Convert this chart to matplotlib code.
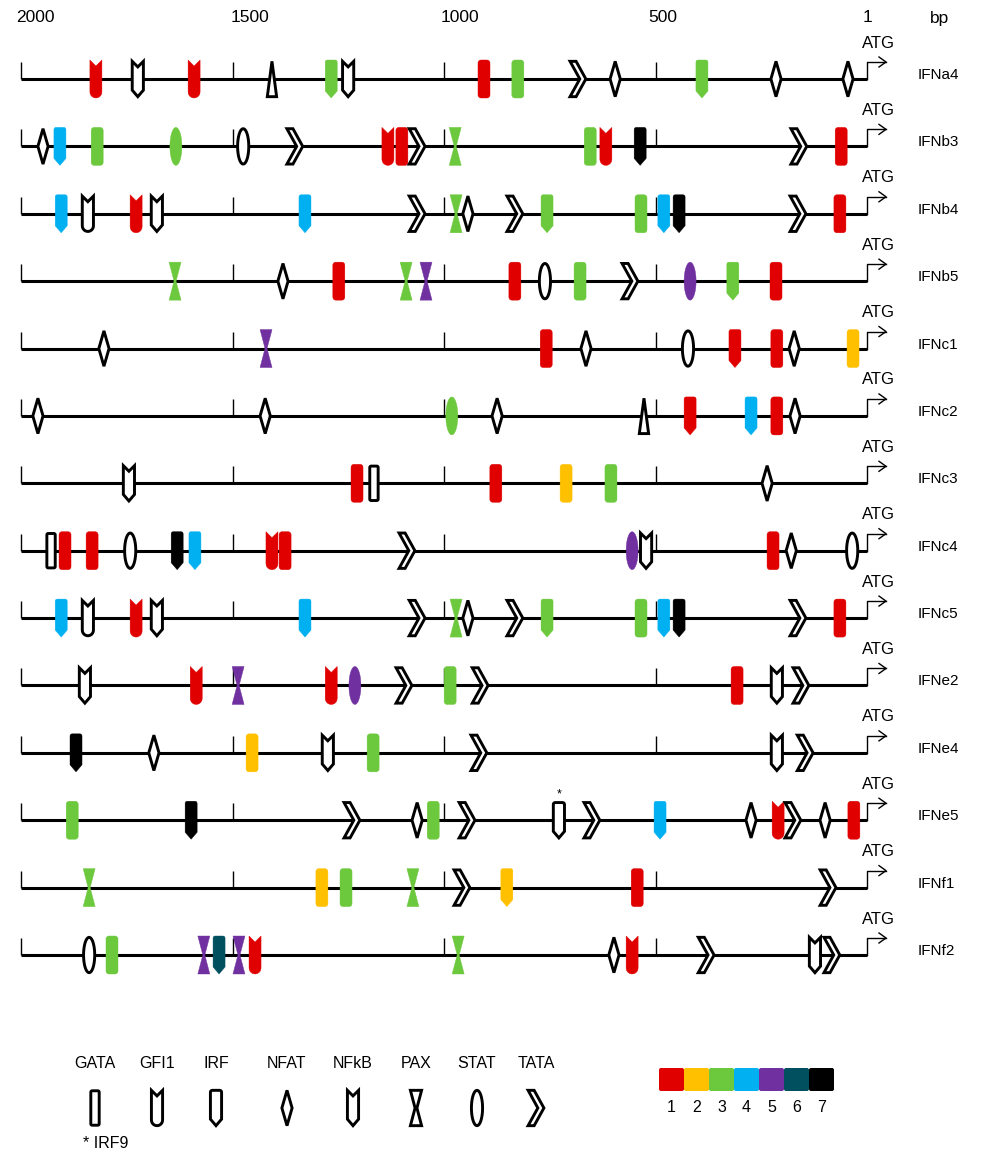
import numpy as np
import matplotlib.pyplot as plt
import matplotlib.transforms as mtransforms
from matplotlib.path import Path
from matplotlib.patches import PathPatch, FancyBboxPatch
from matplotlib.lines import Line2D

plt.rcParams['font.family'] = ['Liberation Sans', 'DejaVu Sans']

# sites: (position in bp upstream of ATG, factor family, colour code 0=open, 1-7)
IFNa4 = [(1823, 'GFI1', 1), (1724, 'NFkB', 0), (1591, 'GFI1', 1), (1407, 'TRI', 0),
         (1267, 'IRF', 3), (1227, 'NFkB', 0), (906, 'GATA', 1), (826, 'GATA', 3),
         (684, 'TATA', 0), (596, 'NFAT', 0), (391, 'IRF', 3), (216, 'NFAT', 0), (46, 'NFAT', 0)]
IFNb3 = [(1948, 'NFAT', 0), (1908, 'IRF', 4), (1820, 'GATA', 3), (1634, 'STAT', 3),
         (1475, 'STAT', 0), (1353, 'TATA', 0), (1133, 'GFI1', 1), (1100, 'GATA', 1),
         (1064, 'TATA', 0), (974, 'PAX', 3), (655, 'GATA', 3), (618, 'GFI1', 1),
         (537, 'IRF', 7), (162, 'TATA', 0), (62, 'GATA', 1)]
IFNb4 = [(1905, 'IRF', 4), (1842, 'GFI1', 0), (1728, 'GFI1', 1), (1679, 'NFkB', 0),
         (1329, 'IRF', 4), (1064, 'TATA', 0), (972, 'PAX', 3), (944, 'NFAT', 0),
         (833, 'TATA', 0), (757, 'IRF', 3), (535, 'GATA', 3), (481, 'IRF', 4),
         (445, 'IRF', 7), (164, 'TATA', 0), (65, 'GATA', 1)]
IFNb5 = [(1636, 'PAX', 3), (1381, 'NFAT', 0), (1249, 'GATA', 1), (1090, 'PAX', 3),
         (1043, 'PAX', 5), (833, 'GATA', 1), (762, 'STAT', 0), (679, 'GATA', 3),
         (561, 'TATA', 0), (419, 'STAT', 5), (318, 'IRF', 3), (216, 'GATA', 1)]
IFNc1 = [(1804, 'NFAT', 0), (1421, 'PAX', 5), (759, 'GATA', 1), (665, 'NFAT', 0),
         (424, 'STAT', 0), (313, 'IRF', 1), (214, 'GATA', 1), (173, 'NFAT', 0), (34, 'GATA', 2)]
IFNc2 = [(1960, 'NFAT', 0), (1423, 'NFAT', 0), (982, 'STAT', 3), (875, 'NFAT', 0),
         (528, 'TRI', 0), (419, 'IRF', 1), (275, 'IRF', 4), (214, 'GATA', 1), (171, 'NFAT', 0)]
IFNc3 = [(1745, 'NFkB', 0), (1206, 'GATA', 1), (1166, 'GATA', 0), (878, 'GATA', 1),
         (712, 'GATA', 2), (606, 'GATA', 3), (237, 'NFAT', 0)]
IFNc4 = [(1929, 'GATA', 0), (1896, 'GATA', 1), (1832, 'GATA', 1), (1742, 'STAT', 0),
         (1631, 'IRF', 7), (1589, 'IRF', 4), (1407, 'GFI1', 1), (1376, 'GATA', 1),
         (1088, 'TATA', 0), (556, 'STAT', 5), (523, 'NFkB', 0), (223, 'GATA', 1),
         (180, 'NFAT', 0), (36, 'STAT', 0)]
IFNc5 = [(1905, 'IRF', 4), (1842, 'GFI1', 0), (1728, 'GFI1', 1), (1679, 'NFkB', 0),
         (1329, 'IRF', 4), (1064, 'TATA', 0), (972, 'PAX', 3), (944, 'NFAT', 0),
         (833, 'TATA', 0), (757, 'IRF', 3), (535, 'GATA', 3), (481, 'IRF', 4),
         (445, 'IRF', 7), (164, 'TATA', 0), (65, 'GATA', 1)]
IFNe2 = [(1849, 'NFkB', 0), (1586, 'GFI1', 1), (1487, 'PAX', 5), (1267, 'GFI1', 1),
         (1211, 'STAT', 5), (1095, 'TATA', 0), (986, 'GATA', 3), (915, 'TATA', 0),
         (308, 'GATA', 1), (214, 'NFkB', 0), (157, 'TATA', 0)]
IFNe4 = [(1870, 'IRF', 7), (1686, 'NFAT', 0), (1454, 'GATA', 2), (1275, 'NFkB', 0),
         (1168, 'GATA', 3), (918, 'TATA', 0), (214, 'NFkB', 0), (147, 'TATA', 0)]
IFNe5 = [(1879, 'GATA', 3), (1598, 'IRF', 7), (1218, 'TATA', 0), (1064, 'NFAT', 0),
         (1026, 'GATA', 3), (946, 'TATA', 0), (729, 'IRF', 0), (651, 'TATA', 0),
         (490, 'IRF', 4), (275, 'NFAT', 0), (211, 'GFI1', 1), (176, 'TATA', 0),
         (100, 'NFAT', 0), (32, 'GATA', 1)]
IFNf1 = [(1839, 'PAX', 3), (1289, 'GATA', 2), (1232, 'GATA', 3), (1074, 'PAX', 3),
         (958, 'TATA', 0), (852, 'IRF', 2), (544, 'GATA', 1), (93, 'TATA', 0)]
IFNf2 = [(1839, 'STAT', 0), (1785, 'GATA', 3), (1568, 'PAX', 5), (1532, 'IRF', 6),
         (1485, 'PAX', 5), (1447, 'GFI1', 1), (967, 'PAX', 3), (599, 'NFAT', 0),
         (556, 'GFI1', 1), (381, 'TATA', 0), (124, 'NFkB', 0), (84, 'TATA', 0)]

genes = ['IFNa4', 'IFNb3', 'IFNb4', 'IFNb5', 'IFNc1', 'IFNc2', 'IFNc3', 'IFNc4',
         'IFNc5', 'IFNe2', 'IFNe4', 'IFNe5', 'IFNf1', 'IFNf2']
tracks = [IFNa4, IFNb3, IFNb4, IFNb5, IFNc1, IFNc2, IFNc3, IFNc4,
          IFNc5, IFNe2, IFNe4, IFNe5, IFNf1, IFNf2]
irf9 = ('IFNe5', 729)

tick_bp = [2000, 1500, 1000, 500]
axis_bp = [2000, 1500, 1000, 500, 1]
axis_txt = ['2000', '1500', '1000', '500', '1']
legend_tf = ['GATA', 'GFI1', 'IRF', 'NFAT', 'NFkB', 'PAX', 'STAT', 'TATA']
code_lbl = ['1', '2', '3', '4', '5', '6', '7']
colors = ['white', '#E00000', '#FFC000', '#6CC83C', '#00B0F0', '#7030A0', '#00505F', '#000000']


def arc(cx, cy, r, a0, a1, n=8):
    a = np.radians(np.linspace(a0, a1, n))
    return list(zip(cx + r * np.cos(a), cy + r * np.sin(a)))


def rrect(w, h, r):
    p = []
    p += arc(w / 2 - r, h / 2 - r, r, 0, 90)
    p += arc(-w / 2 + r, h / 2 - r, r, 90, 180)
    p += arc(-w / 2 + r, -h / 2 + r, r, 180, 270)
    p += arc(w / 2 - r, -h / 2 + r, r, 270, 360)
    return p


def verts(kind, filled):
    # pixel outline, centred on the line, y up
    if kind == 'GATA':
        return rrect(12, 38, 3) if filled else rrect(9, 37, 1.5)
    if kind == 'GFI1':
        return [(-6, 19), (0, 13), (6, 19)] + arc(0, -13, 6, 0, -180, 12)
    if kind == 'IRF':
        return arc(4, 17, 2, 0, 90, 4) + arc(-4, 17, 2, 90, 180, 4) + [(-6, -12), (0, -19), (6, -12)]
    if kind == 'NFkB':
        return [(-6, 19), (0, 13), (6, 19), (6, -12), (0, -19), (-6, -12)]
    if kind == 'NFAT':
        return [(0, 19), (5.5, 0), (0, -19), (-5.5, 0)]
    if kind == 'PAX':
        return [(-6, 19), (6, 19), (1, 0), (6, -19), (-6, -19), (-1, 0)]
    if kind == 'STAT':
        return [(6 * x, 19 * y) for x, y in arc(0, 0, 1, 0, 360, 40)]
    if kind == 'TATA':
        return [(-8.5, 19), (-2, 19), (8.5, 0), (-2, -19), (-8.5, -19), (2, 0)]
    if kind == 'TRI':
        return [(0, 19), (5, -19), (-5, -19)]


def shape_patch(kind, code, tr_place, scale=1.0):
    filled = code != 0
    v = np.array(verts(kind, filled), dtype=float)
    if not filled:
        v = v * 0.93
    path = Path(np.vstack([v, v[:1]]), closed=True)
    tr = mtransforms.Affine2D().scale(scale) + tr_place
    if filled:
        return PathPatch(path, transform=tr, fc=colors[code], ec=colors[code], lw=0.3,
                         clip_on=False, zorder=3)
    return PathPatch(path, transform=tr, fc='white', ec='black', lw=2.1,
                     joinstyle='miter', clip_on=False, zorder=3)


W, H = 981, 1159
x0, x1, y0, y1 = 21, 867, 79, 955
fig = plt.figure(figsize=(W / 100, H / 100), dpi=100)
ax = fig.add_axes([x0 / W, 1 - y1 / H, (x1 - x0) / W, (y1 - y0) / H])
ax.set_xlim(2000, 1)
ax.set_ylim(len(genes) - 1, 0)
ax.axis('off')
ppu = (y1 - y0) / (len(genes) - 1)

for i, (gene, sites) in enumerate(zip(genes, tracks)):
    ax.plot([2000, 1], [i, i], color='black', lw=2.2, solid_capstyle='butt',
            clip_on=False, zorder=1)
    ax.vlines(tick_bp, i - 17 / ppu, i, color='black', lw=1.0, clip_on=False, zorder=1)
    at = mtransforms.ScaledTranslation(1, i, ax.transData)
    ax.add_line(Line2D([0, 0, 19], [0, 17, 17], transform=at, color='black', lw=1.0,
                       clip_on=False))
    ax.add_line(Line2D([12, 19, 12], [22, 17, 12], transform=at, color='black', lw=1.0,
                       clip_on=False))
    ax.annotate('ATG', xy=(1, i), xytext=(11, 36), textcoords='offset pixels',
                ha='center', va='center', fontsize=12, annotation_clip=False)
    ax.annotate(gene, xy=(1, i), xytext=(51, 4), textcoords='offset pixels',
                ha='left', va='center', fontsize=11, annotation_clip=False)
    for bp, kind, code in sites:
        at = mtransforms.ScaledTranslation(bp, i, ax.transData)
        ax.add_patch(shape_patch(kind, code, at))
        if (gene, bp) == irf9:
            ax.annotate('*', xy=(bp, i), xytext=(0, 26), textcoords='offset pixels',
                        ha='center', va='center', fontsize=9, annotation_clip=False)

# bp scale on top
for bp, txt, dx in zip(axis_bp, axis_txt, [14, 17, 16, 7, 0]):
    ax.annotate(txt, xy=(bp, 0), xytext=(dx, 61), textcoords='offset pixels',
                ha='center', va='center', fontsize=12.5, annotation_clip=False)
ax.annotate('bp', xy=(1, 0), xytext=(73, 61), textcoords='offset pixels',
            ha='center', va='center', fontsize=12.5, annotation_clip=False)

# shape legend
leg_x = [95, 157, 216, 287, 353, 416, 477, 536]
for name, lx in zip(legend_tf, leg_x):
    fig.text(lx / W, 1 - 1064 / H, name, ha='center', va='center', fontsize=11.5)
    place = mtransforms.Affine2D().translate(lx, H - 1108)
    fig.add_artist(shape_patch(name, 0, place, scale=1.0))
fig.text(83 / W, 1 - 1143 / H, '* IRF9', ha='left', va='center', fontsize=11.5)

# colour code bar
for k, lbl in enumerate(code_lbl):
    bx = 659 + 25 * k
    fig.add_artist(FancyBboxPatch((bx, H - 1091), 25, 23,
                                  boxstyle='round,pad=0,rounding_size=2',
                                  transform=mtransforms.IdentityTransform(),
                                  fc=colors[k + 1], ec='none'))
    fig.text((bx + 12.5) / W, 1 - 1107 / H, lbl, ha='center', va='center', fontsize=11.5)

fig.savefig('out.png', dpi=100)
